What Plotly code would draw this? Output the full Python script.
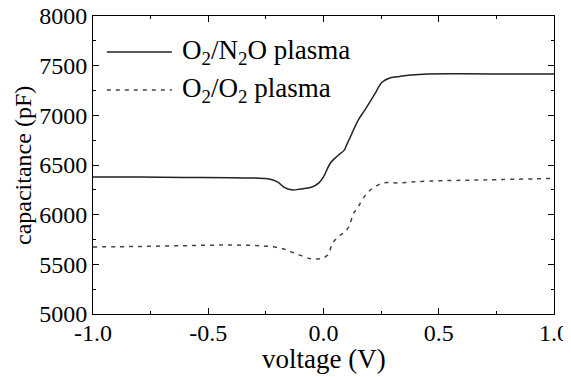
import plotly.graph_objects as go

# O2/N2O plasma (solid)
v_n2o = [-1.0, -0.8, -0.6, -0.4, -0.3, -0.24, -0.2, -0.17, -0.14, -0.1, -0.05, -0.02,
         0.0, 0.03, 0.06, 0.09, 0.1, 0.12, 0.15, 0.18, 0.22, 0.255, 0.29, 0.33, 0.38,
         0.45, 0.6, 0.8, 1.0]
c_n2o = [6380, 6378, 6375, 6372, 6368, 6362, 6330, 6275, 6250, 6258, 6278, 6320,
         6380, 6520, 6590, 6650, 6700, 6800, 6950, 7055, 7205, 7335, 7378, 7392, 7406,
         7416, 7418, 7416, 7416]

# O2/O2 plasma (dashed)
v_o2 = [-1.0, -0.8, -0.6, -0.43, -0.3, -0.24, -0.18, -0.14, -0.1, -0.06, -0.03, 0.0,
        0.02, 0.04, 0.07, 0.09, 0.11, 0.13, 0.15, 0.19, 0.23, 0.26, 0.32, 0.46, 0.7, 1.0]
c_o2 = [5675, 5680, 5688, 5694, 5690, 5682, 5660, 5625, 5590, 5558, 5553, 5565,
        5600, 5715, 5790, 5820, 5880, 6010, 6080, 6220, 6290, 6320, 6320, 6338, 6350, 6365]

x_ticks = [-1.0, -0.5, 0.0, 0.5, 1.0]
x_tick_labels = ["-1.0", "-0.5", "0.0", "0.5", "1.0"]
y_ticks = [5000, 5500, 6000, 6500, 7000, 7500, 8000]

legend_labels = ["O<sub>2</sub>/N<sub>2</sub>O plasma", "O<sub>2</sub>/O<sub>2</sub> plasma"]
x_title = "voltage (V)"
y_title = "capacitance (pF)"

FONT = "Liberation Serif, Times New Roman, serif"

fig = go.Figure()
fig.add_trace(go.Scatter(x=v_n2o, y=c_n2o, mode="lines", line=dict(color="#222222", width=1.5),
                         line_shape="spline", showlegend=False))
fig.add_trace(go.Scatter(x=v_o2, y=c_o2, mode="lines", line=dict(color="#444444", width=1.5, dash="4px,5px"),
                         line_shape="spline", showlegend=False))

# manual legend (paper coordinates)
leg_y = [0.879, 0.752]
dashes = ["solid", "4px,5px"]
colors = ["#222222", "#444444"]
for yy, lab, d, c in zip(leg_y, legend_labels, dashes, colors):
    fig.add_shape(type="line", xref="paper", yref="paper", x0=0.030, x1=0.171, y0=yy, y1=yy,
                  line=dict(color=c, width=1.5, dash=d))
    fig.add_annotation(xref="paper", yref="paper", x=0.188, y=yy, xanchor="left", yanchor="middle",
                       text=lab, showarrow=False, font=dict(family=FONT, size=27, color="black"))

# axis titles
fig.add_annotation(xref="paper", yref="paper", x=0.5, y=-0.15, xanchor="center", yanchor="middle",
                   text=x_title, showarrow=False, font=dict(family=FONT, size=27, color="black"))
fig.add_annotation(xref="paper", yref="paper", x=-0.1844, y=0.5, xanchor="left", yanchor="middle",
                   text=y_title, textangle=-90, showarrow=False,
                   font=dict(family=FONT, size=24, color="black"))

axis_common = dict(showline=True, linecolor="black", linewidth=1, mirror="allticks",
                   ticks="inside", ticklen=6, tickcolor="black", showgrid=False, zeroline=False,
                   automargin=False, ticklabeloverflow="allow",
                   tickfont=dict(family=FONT, size=24, color="black"))

fig.update_xaxes(range=[-1.0, 1.0], tickvals=x_ticks, ticktext=x_tick_labels,
                 minor=dict(dtick=0.25, ticks="inside", ticklen=3, tickcolor="black", showgrid=False),
                 ticklabelstandoff=-3, **axis_common)
fig.update_yaxes(range=[5000, 8000], tickvals=y_ticks,
                 minor=dict(dtick=250, ticks="inside", ticklen=3, tickcolor="black", showgrid=False),
                 **axis_common)

# the page body adds an 8px offset; size and margins compensate for it
fig.update_layout(width=563, height=369, margin=dict(l=85, r=17, t=8, b=63),
                  paper_bgcolor="white", plot_bgcolor="white",
                  font=dict(family=FONT, color="black"))

fig.write_html("out.html")
